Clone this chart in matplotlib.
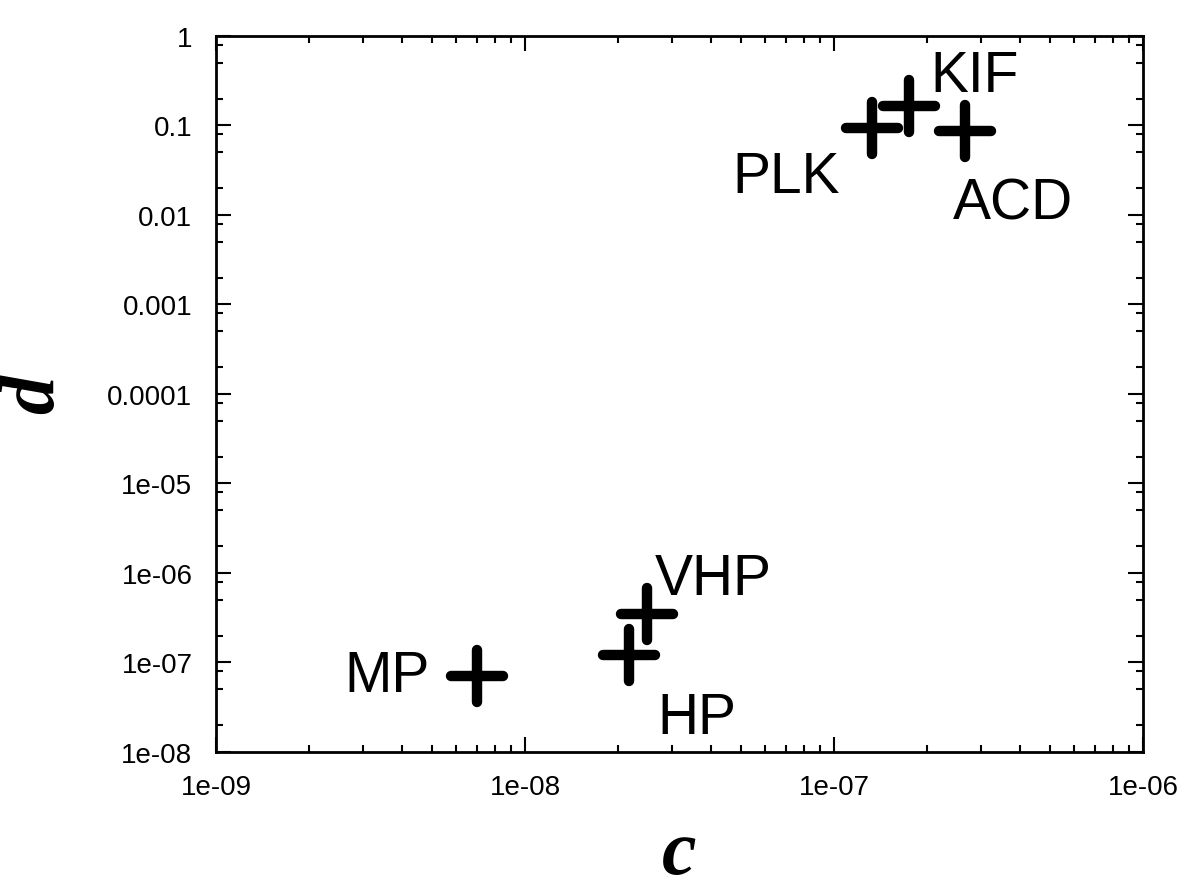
import matplotlib
matplotlib.use("Agg")
import matplotlib.pyplot as plt
from matplotlib.markers import MarkerStyle
from matplotlib.ticker import FixedLocator, LogLocator, NullFormatter

plt.rcParams['font.family'] = ['Liberation Sans', 'DejaVu Sans']

# data
names = ["MP", "HP", "VHP", "PLK", "KIF", "ACD"]
c_vals = [7.0e-9, 2.17e-8, 2.48e-8, 1.33e-7, 1.75e-7, 2.65e-7]
d_vals = [7.1e-8, 1.21e-7, 3.48e-7, 0.0937, 0.165, 0.0868]

x_ticks = [1e-9, 1e-8, 1e-7, 1e-6]
x_labels = ["1e-09", "1e-08", "1e-07", "1e-06"]
y_ticks = [1e-8, 1e-7, 1e-6, 1e-5, 1e-4, 1e-3, 1e-2, 1e-1, 1]
y_labels = ["1e-08", "1e-07", "1e-06", "1e-05", "0.0001", "0.001", "0.01", "0.1", "1"]

# label offsets in pixels and alignment
offsets = {
    "MP": ((-47, 0), "right", "center"),
    "HP": ((28, -36), "left", "top"),
    "VHP": ((8, 20), "left", "baseline"),
    "PLK": ((-32, -22), "right", "top"),
    "KIF": ((21, 15), "left", "baseline"),
    "ACD": ((-12, -46), "left", "top"),
}

fig = plt.figure(figsize=(12, 8.95), dpi=100)
ax = fig.add_axes([0.18, 0.1587, 0.7725, 0.8])

plus = MarkerStyle("+", capstyle="round")
ax.plot(c_vals, d_vals, linestyle="none", marker=plus, markersize=37,
        markeredgewidth=7.5, color="black")

for n, x, y in zip(names, c_vals, d_vals):
    off, ha, va = offsets[n]
    ax.annotate(n, (x, y), xytext=off, textcoords="offset pixels",
                ha=ha, va=va, fontsize=41)

ax.set_xscale("log")
ax.set_yscale("log")
ax.set_xlim(1e-9, 1e-6)
ax.set_ylim(1e-8, 1)

ax.xaxis.set_major_locator(FixedLocator(x_ticks))
ax.set_xticklabels(x_labels)
ax.yaxis.set_major_locator(FixedLocator(y_ticks))
ax.set_yticklabels(y_labels)
ax.xaxis.set_minor_locator(LogLocator(base=10, subs=range(2, 10), numticks=20))
ax.yaxis.set_minor_locator(LogLocator(base=10, subs=[2, 5, 8], numticks=20))
ax.xaxis.set_minor_formatter(NullFormatter())
ax.yaxis.set_minor_formatter(NullFormatter())

ax.tick_params(which="both", direction="in", top=True, right=True, width=1.5)
ax.tick_params(which="major", length=11, labelsize=20)
ax.tick_params(axis="y", which="major", pad=17)
ax.tick_params(axis="x", which="major", pad=16)
ax.tick_params(which="minor", length=5)
for s in ax.spines.values():
    s.set_linewidth(2)

ax.set_xlabel("c", fontsize=56, fontstyle="italic", fontweight="bold",
              family="Liberation Serif")
ax.set_ylabel("d", fontsize=56, fontstyle="italic", fontweight="bold",
              family="Liberation Serif")
ax.xaxis.set_label_coords(0.5, -0.093)
ax.yaxis.set_label_coords(-0.157, 0.5)

fig.savefig("out.png", dpi=100)
